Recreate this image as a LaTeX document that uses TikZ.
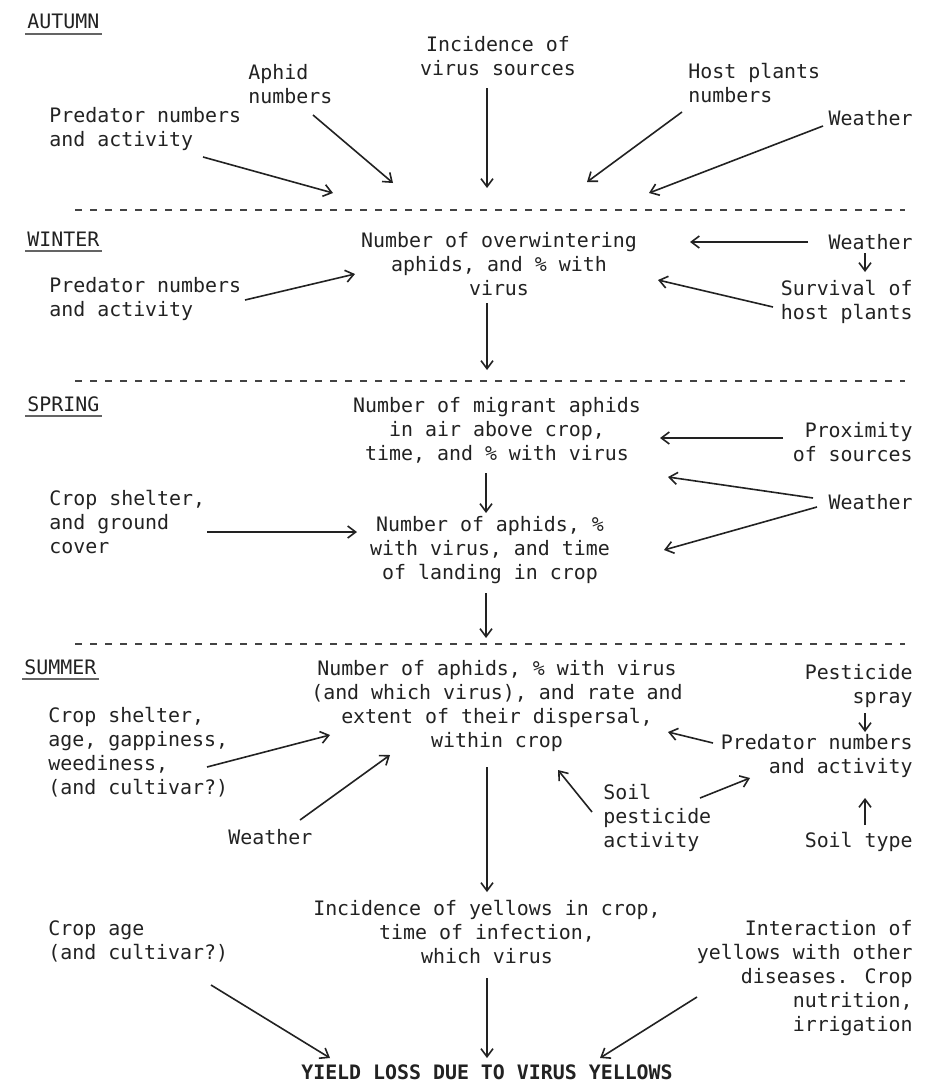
\documentclass[tikz,border=0pt]{standalone}
\usepackage{fontspec}
\newfontfamily\typer{DejaVu Sans Mono}
\usetikzlibrary{arrows.meta}
\definecolor{ink}{HTML}{222222}

\begin{document}
\begin{tikzpicture}[x=0.5pt, y=-0.5pt,
    txt/.style={inner sep=0pt, text=ink, font={\typer\fontsize{9.95}{12}\selectfont}},
    lt/.style={txt, align=left, anchor=north west},
    ct/.style={txt, align=center, anchor=north},
    rt/.style={txt, align=right, anchor=north east},
    arr/.style={draw=ink, line width=0.8pt, -{Straight Barb[length=4pt,width=6pt]}},
    sep/.style={draw=ink!85, line width=1.2pt, dash pattern=on 3.5pt off 4pt},
    ul/.style={draw=ink!70, line width=1pt}]

    % поле рисунка
    \useasboundingbox (0,0) rectangle (931,1092);
    \fill[white] (0,0) rectangle (931,1092);

    % разделители сезонов
    \foreach \y in {210,381,644}
        \draw[sep] (75,\y) -- (905,\y);

    % осень
    \node[lt] (lAut) at (27,14) {AUTUMN};
    \node[ct] (aInc) at (498,36) {Incidence of\\virus sources};
    \node[lt] (aAph) at (248,64) {Aphid\\numbers};
    \node[lt] (aHost) at (688,63) {Host plants\\numbers};
    \node[lt] (aPred) at (49,107) {Predator numbers\\and activity};
    \node[rt] (aWea) at (913,110) {Weather};
    \coordinate (aDrop) at (487,190);

    \draw[arr] ([shift={(-11,52)}]aInc.north) -- ([shift={(0,-2)}]aDrop);
    \draw[arr] ([shift={(65,51)}]aAph.north west) -- ([shift={(-94,-7)}]aDrop);
    \draw[arr] ([shift={(154,50)}]aPred.north west) -- ([shift={(-154,3)}]aDrop);
    \draw[arr] ([shift={(-6,49)}]aHost.north west) -- ([shift={(100,-8)}]aDrop);
    \draw[arr] ([shift={(-90,16)}]aWea.north east) -- ([shift={(162,3)}]aDrop);

    % зима
    \node[lt] (lWin) at (27,232) {WINTER};
    \node[ct] (wOver) at (499,232) {Number of overwintering\\aphids, and \% with\\virus};
    \node[lt] (wPred) at (49,277) {Predator numbers\\and activity};
    \node[rt] (wWea) at (913,234) {Weather};
    \node[rt] (wSurv) at (913,280) {Survival of\\host plants};

    \draw[arr] ([shift={(196,23)}]wPred.north west) -- ([shift={(-144,42)}]wOver.north);
    \draw[arr] ([shift={(-105,8)}]wWea.north east) -- ([shift={(191,10)}]wOver.north);
    \draw[arr] ([shift={(-48,19)}]wWea.north east) -- ([shift={(-48,-8)}]wSurv.north east);
    \draw[arr] ([shift={(-140,27)}]wSurv.north east) -- ([shift={(159,48)}]wOver.north);

    % весна
    \node[lt] (lSpr) at (27,396) {SPRING};
    \node[ct] (sMig) at (497,397) {Number of migrant aphids\\in air above crop,\\time, and \% with virus};
    \node[rt] (sProx) at (913,422) {Proximity\\of sources};
    \node[rt] (sWea) at (913,494) {Weather};
    \node[ct] (sLand) at (490,516) {Number of aphids, \%\\with virus, and time\\of landing in crop};
    \node[lt] (sShel) at (49,490) {Crop shelter,\\and ground\\cover};

    \draw[arr] ([shift={(-12,71)}]wOver.north) -- ([shift={(-10,-27)}]sMig.north);
    \draw[arr] ([shift={(-130,16)}]sProx.north east) -- ([shift={(163,41)}]sMig.north);
    \draw[arr] ([shift={(-100,4)}]sWea.north east) -- ([shift={(171,80)}]sMig.north);
    \draw[arr] ([shift={(-96,13)}]sWea.north east) -- ([shift={(174,34)}]sLand.north);
    \draw[arr] ([shift={(-11,76)}]sMig.north) -- ([shift={(-4,-3)}]sLand.north);
    \draw[arr] ([shift={(158,42)}]sShel.north west) -- ([shift={(-133,16)}]sLand.north);

    % лето
    \node[lt] (lSum) at (24,659) {SUMMER};
    \node[ct] (uDisp) at (497,660) {Number of aphids, \% with virus\\(and which virus), and rate and\\extent of their dispersal,\\within crop};
    \node[rt] (uPest) at (913,664) {Pesticide\\spray};
    \node[rt] (uPred) at (913,734) {Predator numbers\\and activity};
    \node[lt] (uShel) at (48,707) {Crop shelter,\\age, gappiness,\\weediness,\\(and cultivar?)};
    \node[lt] (uWea) at (228,829) {Weather};
    \node[lt] (uSoilP) at (603,784) {Soil\\pesticide\\activity};
    \node[rt] (uSoilT) at (913,832) {Soil type};

    \draw[arr] ([shift={(-4,77)}]sLand.north) -- ([shift={(-11,-22)}]uDisp.north);
    \draw[arr] ([shift={(159,60)}]uShel.north west) -- ([shift={(-167,75)}]uDisp.north);
    \draw[arr] ([shift={(72,-9)}]uWea.north west) -- ([shift={(-107,95)}]uDisp.north);
    \draw[arr] ([shift={(-200,9)}]uPred.north east) -- ([shift={(171,72)}]uDisp.north);
    \draw[arr] ([shift={(-48,49)}]uPest.north east) -- ([shift={(-48,-2)}]uPred.north east);
    \draw[arr] ([shift={(-11,28)}]uSoilP.north west) -- ([shift={(61,110)}]uDisp.north);
    \draw[arr] ([shift={(97,14)}]uSoilP.north west) -- ([shift={(-163,44)}]uPred.north east);
    \draw[arr] ([shift={(-48,-7)}]uSoilT.north east) -- ([shift={(-48,64)}]uPred.north east);

    % итог
    \node[ct] (bInc) at (487,900) {Incidence of yellows in crop,\\time of infection,\\which virus};
    \node[lt] (bAge) at (48,920) {Crop age\\(and cultivar?)};
    \node[rt] (bInt) at (913,920) {Interaction of\\yellows with other\\diseases. Crop\\nutrition,\\irrigation};
    \node[ct, font={\typer\bfseries\fontsize{9.95}{12}\selectfont}] (bLoss) at (487,1064) {YIELD LOSS DUE TO VIRUS YELLOWS};

    \draw[arr] ([shift={(-10,107)}]uDisp.north) -- ([shift={(0,-8)}]bInc.north);
    \draw[arr] ([shift={(163,65)}]bAge.north west) -- ([shift={(-157,-6)}]bLoss.north);
    \draw[arr] ([shift={(0,78)}]bInc.north) -- ([shift={(0,-6)}]bLoss.north);
    \draw[arr] ([shift={(-216,77)}]bInt.north east) -- ([shift={(113,-6)}]bLoss.north);

    % подчёркивания сезонов
    \foreach \s in {lAut,lWin,lSpr,lSum}
        \draw[ul] ([shift={(-2,4)}]\s.south west) -- ([shift={(2,4)}]\s.south east);
\end{tikzpicture}
\end{document}
